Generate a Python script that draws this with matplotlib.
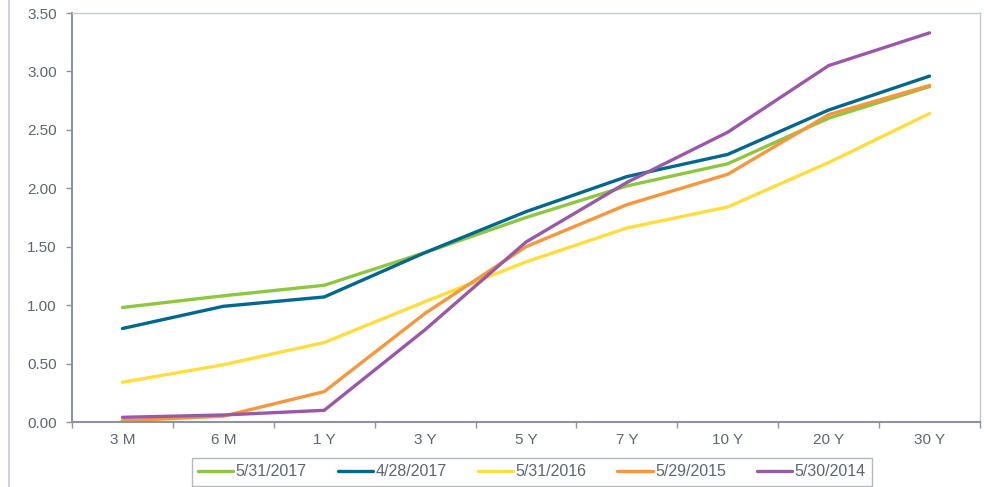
import matplotlib.pyplot as plt
from matplotlib.lines import Line2D
import numpy as np

plt.rcParams['font.family'] = ['Liberation Sans', 'DejaVu Sans']

# Data
tenors = ["3 M", "6 M", "1 Y", "3 Y", "5 Y", "7 Y", "10 Y", "20 Y", "30 Y"]
y_2017_05 = [0.98, 1.08, 1.17, 1.45, 1.75, 2.02, 2.21, 2.60, 2.87]
y_2017_04 = [0.80, 0.99, 1.07, 1.45, 1.80, 2.10, 2.29, 2.67, 2.96]
y_2016 = [0.34, 0.49, 0.68, 1.03, 1.37, 1.66, 1.84, 2.22, 2.64]
y_2015 = [0.01, 0.05, 0.26, 0.93, 1.50, 1.86, 2.12, 2.63, 2.88]
y_2014 = [0.04, 0.06, 0.10, 0.79, 1.54, 2.05, 2.48, 3.05, 3.33]

labels = ["5/31/2017", "4/28/2017", "5/31/2016", "5/29/2015", "5/30/2014"]
colors = ["#8DC63F", "#00688E", "#FFDD3C", "#F7963A", "#9A58A8"]
series = [y_2017_05, y_2017_04, y_2016, y_2015, y_2014]

text_color = "#5C6670"

fig = plt.figure(figsize=(9.84, 4.87), dpi=100)
ax = fig.add_axes([72 / 984, 65 / 487, 908 / 984, 409 / 487])

x = np.arange(len(tenors))
for vals, lab, col in zip(series, labels, colors):
    ax.plot(x, vals, color=col, lw=2.4, label=lab, solid_capstyle='round')

ax.set_xlim(-0.5, len(tenors) - 0.5)
ax.set_ylim(0, 3.5)
ax.set_yticks(np.arange(0, 3.51, 0.5))
ax.set_yticklabels([f"{v:.2f}" for v in np.arange(0, 3.51, 0.5)])
ax.set_xticks(x)
ax.set_xticklabels(tenors)
ax.set_xticks(np.arange(-0.5, len(tenors), 1), minor=True)

ax.tick_params(axis='x', which='major', length=0, pad=8, labelsize=11, labelcolor=text_color)
ax.tick_params(axis='x', which='minor', length=4, width=1, color="#8C959F")
ax.tick_params(axis='y', length=4, width=1, color="#8C959F", pad=7, labelsize=11, labelcolor=text_color)

for s in ['left', 'bottom']:
    ax.spines[s].set_color("#8C959F")
    ax.spines[s].set_linewidth(1.5)
for s in ['top', 'right']:
    ax.spines[s].set_color("#C3CAD3")
    ax.spines[s].set_linewidth(1)

# left border line of the figure
fig.add_artist(Line2D([9 / 984, 9 / 984], [0, 1], color="#CBD2DC", lw=1.5))

leg = ax.legend(loc='upper center', bbox_to_anchor=(532 / 984, 29 / 487),
                bbox_transform=fig.transFigure, ncol=5, frameon=True,
                fancybox=False, fontsize=11.5, handlelength=2.2, handletextpad=0.15,
                columnspacing=1.95, borderpad=0.4, borderaxespad=0)
leg.get_frame().set_edgecolor("#A0A8B2")
leg.get_frame().set_linewidth(1)
for t in leg.get_texts():
    t.set_color(text_color)

fig.savefig("out.png", dpi=100)
